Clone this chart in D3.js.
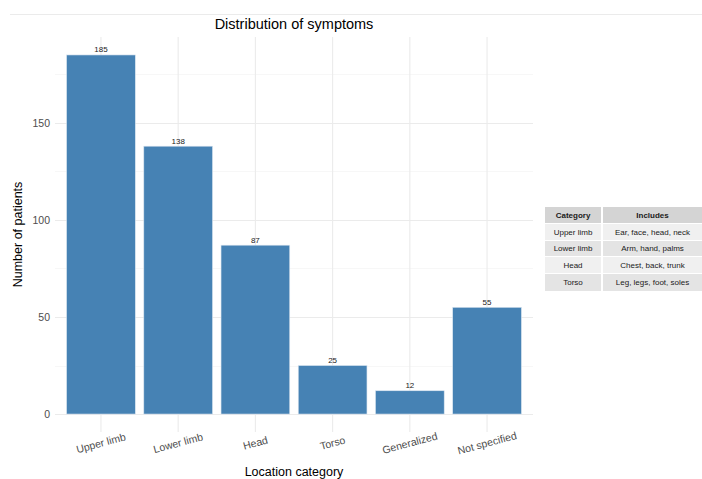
<!DOCTYPE html>
<html><head><meta charset="utf-8">
<script src="https://cdn.jsdelivr.net/npm/d3@7"></script>
<style>body{margin:0;background:#fff;} svg{display:block;font-family:"Liberation Sans",Arial,sans-serif;}</style>
</head><body><svg id="c" width="702" height="479"></svg>
<script>
const categories = ["Upper limb","Lower limb","Head","Torso","Generalized","Not specified"];
const counts = [185,138,87,25,12,55];
const yTicks = [0,50,100,150];
const yMinor = [25,75,125,175];
const tableHeader = ["Category","Includes"];
const tableCategory = ["Upper limb","Lower limb","Head","Torso"];
const tableIncludes = ["Ear, face, head, neck","Arm, hand, palms","Chest, back, trunk","Leg, legs, foot, soles"];

const svg = d3.select("#c");
const L=55, R=533, T=37, B=432;
const x = d3.scaleBand().domain(categories).range([L,R]).paddingInner(0.11).paddingOuter(0.15);
const yMax = 185*1.05;
const y = d3.scaleLinear().domain([-185*0.05, yMax]).range([B,T]);

// top separator line
svg.append("line").attr("x1",10).attr("x2",702).attr("y1",14.5).attr("y2",14.5).attr("stroke","#ebebeb");

// grid
svg.selectAll(".gmin").data(yMinor).join("line")
  .attr("x1",L).attr("x2",R).attr("y1",d=>Math.round(y(d))+0.5).attr("y2",d=>Math.round(y(d))+0.5)
  .attr("stroke","#f2f2f2").attr("stroke-width",0.6);
svg.selectAll(".gmaj").data(yTicks).join("line")
  .attr("x1",L).attr("x2",R).attr("y1",d=>Math.round(y(d))+0.5).attr("y2",d=>Math.round(y(d))+0.5)
  .attr("stroke","#ebebeb").attr("stroke-width",1.1);
svg.selectAll(".gv").data(categories).join("line")
  .attr("x1",d=>x(d)+x.bandwidth()/2).attr("x2",d=>x(d)+x.bandwidth()/2).attr("y1",T).attr("y2",B)
  .attr("stroke","#ebebeb").attr("stroke-width",1.1);

// bars
svg.selectAll(".bar").data(categories).join("rect")
  .attr("x",d=>x(d)).attr("width",x.bandwidth())
  .attr("y",(d,i)=>y(counts[i])).attr("height",(d,i)=>y(0)-y(counts[i]))
  .attr("fill","#4682b4").attr("stroke","#dbe6f0").attr("stroke-width",0.6);

// bar labels
svg.selectAll(".bl").data(categories).join("text")
  .attr("x",d=>x(d)+x.bandwidth()/2).attr("y",(d,i)=>y(counts[i])-2.5)
  .attr("text-anchor","middle").attr("font-size",8).attr("fill","#1a1a1a")
  .text((d,i)=>counts[i]);

// y tick labels
svg.selectAll(".yt").data(yTicks).join("text")
  .attr("x",50).attr("y",d=>y(d)).attr("dy","0.35em").attr("text-anchor","end")
  .attr("font-size",10.5).attr("fill","#4d4d4d").text(d=>d);

// x tick labels
svg.selectAll(".xt").data(categories).join("text")
  .attr("transform",d=>`translate(${x(d)+x.bandwidth()/2},${443}) rotate(-15)`)
  .attr("text-anchor","middle").attr("dy","0.35em")
  .attr("font-size",10.5).attr("fill","#4d4d4d").text(d=>d);

// titles
svg.append("text").attr("x",(L+R)/2).attr("y",29).attr("text-anchor","middle")
  .attr("font-size",14.5).attr("fill","#000").text("Distribution of symptoms");
svg.append("text").attr("x",(L+R)/2).attr("y",476).attr("text-anchor","middle")
  .attr("font-size",12.5).attr("fill","#000").text("Location category");
svg.append("text").attr("transform",`translate(22,${(T+B)/2}) rotate(-90)`).attr("text-anchor","middle")
  .attr("font-size",12.5).attr("fill","#000").text("Number of patients");

// table
const c1x=545, c1w=56, c2x=603, c2w=99;
const rowY=[207,224,241,257,274], rowH=[16,16,15,16,17];
const g = svg.append("g");
const rows = [tableHeader].concat(tableCategory.map((c,i)=>[c,tableIncludes[i]]));
rows.forEach((r,i)=>{
  const fill = i===0 ? "#d4d4d4" : (i%2===1 ? "#f0f0f0" : "#e4e4e4");
  g.append("rect").attr("x",c1x).attr("y",rowY[i]).attr("width",c1w).attr("height",rowH[i]).attr("fill",fill);
  g.append("rect").attr("x",c2x).attr("y",rowY[i]).attr("width",c2w).attr("height",rowH[i]).attr("fill",fill);
  [[c1x+c1w/2,r[0]],[c2x+c2w/2,r[1]]].forEach(([cx,t])=>{
    g.append("text").attr("x",cx).attr("y",rowY[i]+rowH[i]/2).attr("dy","0.35em")
     .attr("text-anchor","middle").attr("font-size",8).attr("font-weight",i===0?"bold":"normal")
     .attr("fill","#1a1a1a").text(t);
  });
});
</script></body></html>
